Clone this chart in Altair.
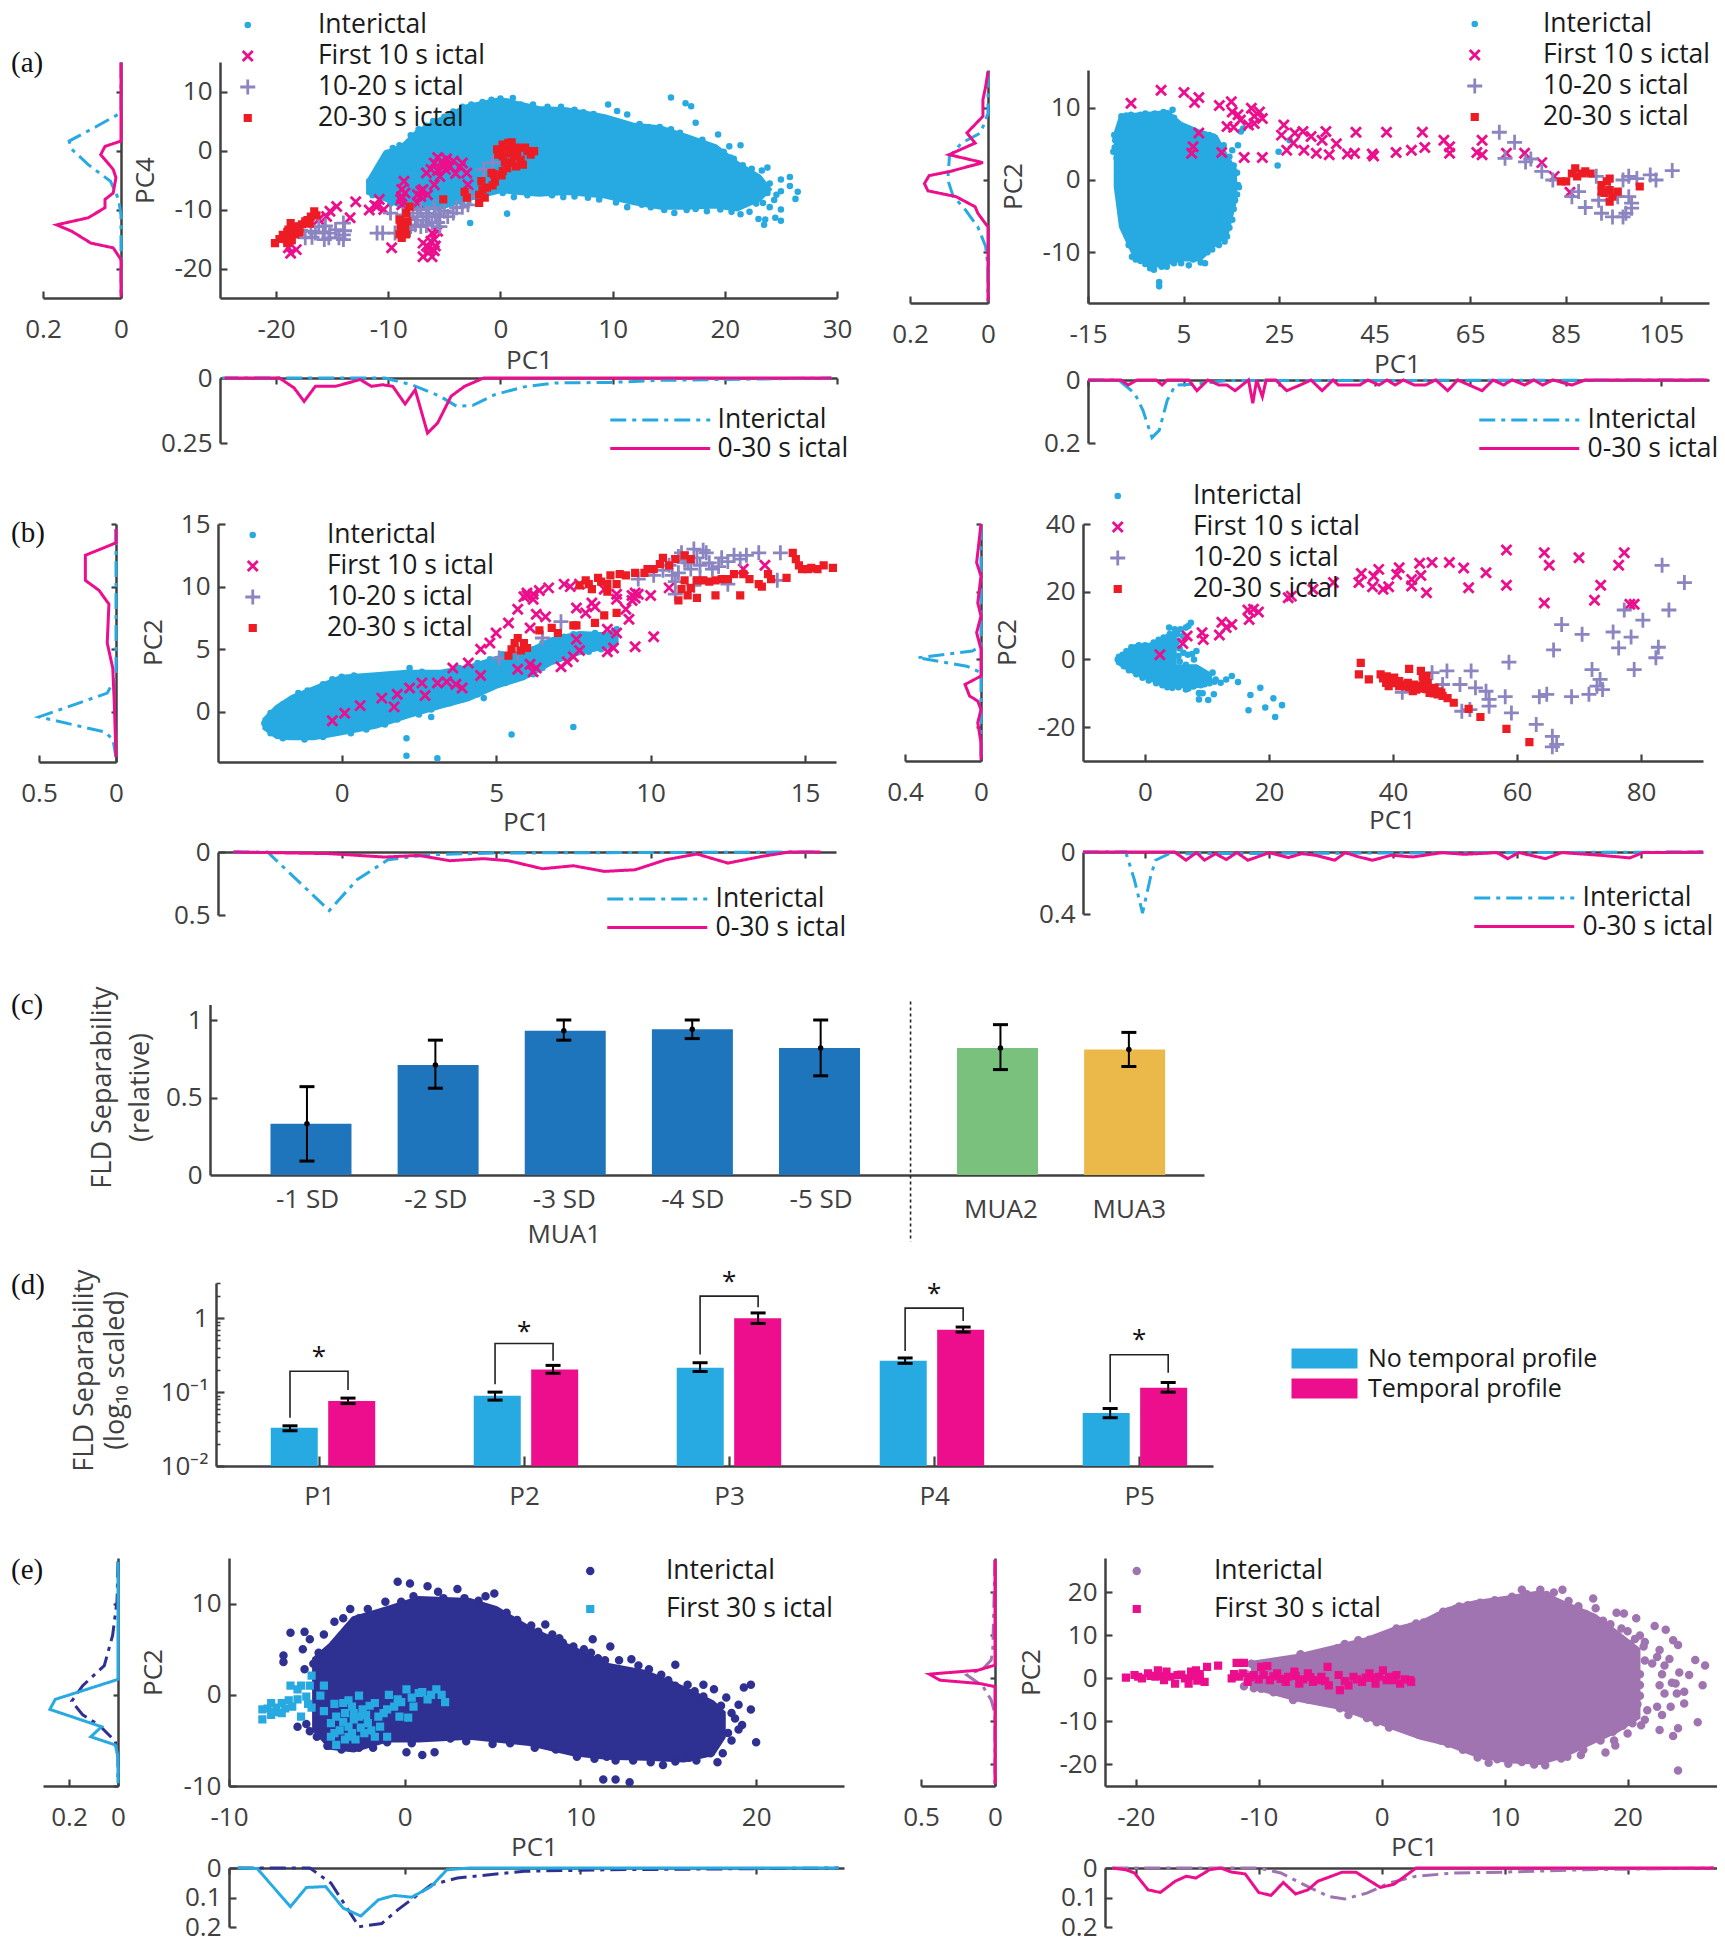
import altair as alt
import pandas as pd

F = "Open Sans"
SERIF = "Liberation Serif"
DARK = "#404040"
INK = "#1a1a1a"
BLUE = "#27AAE1"
PINK = "#EC0E8C"
LILAC = "#8B85C1"
RED = "#ED1C24"
NAVY = "#2E3192"
MAUVE = "#A074B0"
FS = 26
LFS = 26.5

LABELS4 = ["Interictal", "First 10 s ictal", "10-20 s ictal", "20-30 s ictal"]
LABELS2 = ["Interictal", "First 30 s ictal"]
LINE_LABELS = ["Interictal", "0-30 s ictal"]

# ---------- panel (a) left ----------
A1_BLOB_X = [-11.8,-10.3,-8.8,-7.4,-5.4,-3,0,3.4,5.9,9.3,11.8,14.3,16.7,19.2,21.1,23.1,24]
A1_BLOB_HI = [-5.2,-0.4,0.7,3.3,5.3,7.5,8.7,7.2,7,5.8,4.4,3.9,2.4,0.7,-2.1,-4.4,-6.6]
A1_BLOB_LO = [-7.2,-8.3,-9.5,-9.8,-9.8,-8.3,-6.9,-7.5,-7.2,-7.8,-8.9,-9.7,-9.7,-9.5,-10,-8.3,-6.6]
A1_INTER = [(15.2,9),(16.5,8),(17,7.5),(9.6,7.8),(10.4,6.7),(11.3,6.1),(17.4,4.7),(19.4,2.7),(20.4,.7),(21.4,.9),(20.5,-1.2),(21.6,-2.5),(23.8,-2.9),(25.8,-4.5),(25,-4.9),(26.5,-7),(26.3,-8.2),(25.8,-6),(25,-6.9),(25,-10),(25,-11.9),(24.5,-11.4),(23.6,-11.7),(23.5,-12.6),(23,-11.6),(21.4,-10.8),(18.4,-10.3),(15.5,-10.6),(14.6,-10.1),(11.3,-9.6),(6.6,-7.8),(3.7,-7.2),(1.2,-7.9),(.6,-10.7),(-2.7,-12.3),(-11.7,-5.2),(-10.1,-.4),(1.1,8.9),(0,8.8),(2.9,7.8),(5.4,7.4),
 (-10.2,-2),(-9.6,.4),(-9,.9),(-8.4,1),(-8,2.6),(-7.3,3.6),(-6.6,4.2),(-6,5),(-5,5.7),(-4.2,6.6),(-3.4,7.4),(-2.6,7.8),(-1.6,8.2),(-.8,8.6),(.6,8.3),(1.8,7.8),(4.2,7.4),(6.6,6.9),(7.4,6.5),(8.3,6.2),(12.4,4.5),(13.2,4),(14.2,4),(15.2,3.6),(16,3),(18,1.8),(19.9,-.2),(20.8,-1.4),(22.4,-3.1),(23.3,-3.4),
 (-11.4,-7.6),(-9.8,-9),(-3.4,-9),(-2,-8),(.2,-7.2),(2.4,-7.6),(4.6,-7.6),(5.6,-7.9),(7.8,-8),(8.8,-8.3),(10.3,-8.8),(12.6,-9.2),(13.4,-9.6),(16.6,-10.1),(17.4,-9.9),(19.6,-10),(20.6,-10.4),(22.2,-10.4),(22.8,-9),(23.4,-8.9),(24,-9.6),(24.4,-8.4),(24.6,-7.5),(24,-5.6),(23.2,-6.4),(23.8,-7.2)]
A1_X10 = [(-18.7,-17.4),(-18.2,-16.8),(-18.9,-16.5),(-16.2,-11.7),(-15.5,-11.2),(-15.2,-10.3),(-14.6,-9.5),(-13.4,-11.4),(-12.9,-8.7),(-11.7,-10.1),(-11,-9.5),(-10.8,-8.3),(-9.7,-16.5),(-8.8,-7.8),(-8.8,-6.6),(-8.6,-5.2),(-8.8,-9.2),(-7.4,-8.9),(-7.1,-7.8),(-6.9,-6.6),(-6.6,-3.8),(-5.9,-2.1),(-5.6,-1.2),(-5.4,-4.4),(-5.9,-5.8),(-4.9,-3.2),(-4.2,-1.8),(-3.4,-2.1),(-2.9,-5.8),(-6.9,-18),(-6.1,-18),(-6.4,-16.5),(-5.9,-15.1),(-6.9,-15.7),(-6.1,-14),(-5.6,-13.7),
 (-6.4,-17.3),(-6.6,-16.2),(-6.2,-15.4),(-5.9,-17),(-5.8,-16.2),(-5,-2.6),(-5.2,-1.8),(-4.5,-2.7),(-5.6,-3.4),(-6.2,-3.2),(-4.8,-1.4),(-7.1,-6.9),(-7.4,-7.5),(-6.5,-7.5),(-8.5,-7.2),(-8.9,-8.3),(-11.2,-9.3),(-10.4,-10),(-3.6,-2.8),(-3,-3.8),(-4,-3.9)]
A1_X20 = [(-18.2,-13.4),(-17.4,-14.8),(-16.5,-14),(-15.7,-15.1),(-14.7,-13.4),(-14,-15.1),(-14,-12.3),(-15.2,-14),(-16.2,-12.9),(-14,-14.3),(-11,-14),(-9.8,-10.6),(-8.1,-11.7),(-7.4,-11.2),(-6.6,-10.6),(-6.1,-12.3),(-5.4,-11.2),(-4.7,-11.2),(-3.9,-9.7),(-2.9,-9.2),(-8.1,-13.4),(-5.4,-12.9),(-1.5,-3.2),(-.7,-2.1),(-2.7,-7.8),(-7.1,-10),(-5.9,-9.7),(-7.1,-12.9),
 (-17.8,-13.5),(-16.9,-13.7),(-15.8,-13.8),(-15.3,-14.8),(-14.4,-14.8),(-13.9,-13.6),(-16.8,-14.7),(-15.6,-12.8),(-8.7,-10.9),(-8,-12.9),(-7.6,-12.6),(-6.9,-11.8),(-6.4,-11.2),(-5.8,-10.8),(-5,-10.3),(-4.2,-10.6),(-3.4,-9.6),(-7.8,-10.6),(-6.6,-12.7),(-5.6,-12.2),(-10.5,-14),(-9.4,-14)]
A1_X30 = [(-20.1,-15.7),(-19.4,-14.3),(-18.9,-13.4),(-18.7,-12.3),(-18.2,-12.9),(-17.4,-12),(-16.9,-11.2),(-16.6,-10.3),(-19,-15.7),(-9,-11.7),(-8.5,-12.9),(-8.8,-14.8),(-8.4,-10.6),(-8.1,-9.5),(-5.1,-8.3),(-3.2,-7),(-1.9,-8.9),(-1.9,-7.5),(-1.2,-6.3),(-1.7,-5.2),(-.5,-5.3),(-.8,-3.8),(.2,-3.5),(-.2,-.7),(.7,1.3),(1.5,.5),(1.2,-1),(2,-2.4),(2.2,.5),(3,-.1),(.2,-1),(.2,.7),(1,-2.1),(2.7,-.7),
 (-19.7,-15),(-19.2,-14.8),(-18.7,-14.5),(-19,-13.8),(-18.4,-13.6),(-18,-13.2),(-17.7,-12.5),(-17.2,-11.8),(-17,-12.4),(-16.4,-11),(-18.6,-15.2),(-18.3,-14.2),(-17.9,-13.9),(-8.9,-12.4),(-8.6,-13.5),(-8.9,-13.6),(-8.4,-14.2),(-8.3,-12),(-9,-14.2),(0,0),(.5,.5),(1,.5),(.8,-.5),(1.5,-.3),(.4,-2),(.6,-3),(1.4,-2.7),(1.8,-1.6),(2.4,-.1),(-.3,.2),(1,1.4),(.2,1),(-.6,-4),(.1,-4.2),(-1.4,-8),(-1.6,-6.6),(-3,-8),(-.7,-5.9)]
A1_L_I = [(14.9,0),(6.4,0),(4.1,.062),(1.6,.133),(.2,.126),(-2.4,.084),(-5.2,.027),(-8.3,.006),(-11,0),(-24.8,0)]
A1_L_P = [(14.9,0),(1.6,0),(.7,.041),(-.7,.052),(-3.2,.02),(-4.6,.013),(-7.2,.02),(-8.3,.041),(-9.7,.041),(-11.4,.084),(-12.6,.165),(-13.7,.126),(-15.7,.077),(-16.5,.02),(-18.5,0),(-24.8,0)]
A1_B_I = [(-24.8,0),(-10.3,0),(-7.9,.026),(-5.4,.07),(-3.9,.109),(-2.5,.106),(-.5,.064),(2,.035),(4.9,.019),(9.8,.017),(14.3,.009),(29.5,0)]
A1_B_P = [(-24.6,0),(-19.7,0),(-18.4,.038),(-17.5,.09),(-16.5,.032),(-14.7,.032),(-12.5,.006),(-11.5,.032),(-10.5,.026),(-9.6,.032),(-8.5,.1),(-7.6,.045),(-6.5,.212),(-5.6,.173),(-4.4,.07),(-3.2,.032),(-1.5,0),(29.5,0)]

# ---------- panel (a) right ----------
A2_BLOB_X = [-9.2,-8.1,-5.2,-1.8,1.6,4.4,8.4,11.8,14.1,15.8]
A2_BLOB_HI = [6.5,8.8,9,9.2,9.4,7.8,6.7,6,3.2,1.4]
A2_BLOB_LO = [-.9,-6.5,-10.6,-12,-11.5,-11,-11,-8.8,-7.4,-2.8]
A2_INTER = [(-9.5,6.2),(-9.7,3.9),(-.1,-14.7),(-.1,-14.1),(-1.2,-12.4),(2.7,9.7),(16.4,-.7),(15.8,-2.8),(14.1,-7.8),(9.5,-11.5),(6.1,-11.8),(-5.8,-10.6),(16.4,4.8),(17,6.7),(17.5,7.1),(24.7,2),(24.9,3.9),(27.2,5.5),(15.2,4.1),(11.2,6),(-8.6,3.2),
 (-9.3,5.5),(-9.4,4.5),(-9,3),(-8.9,1.5),(-8.7,0),(-8.6,-2),(-8,-4),(-7.6,-6),(-7,-7.5),(-6.5,-9),(-5,-11),(-4,-11.2),(-3,-11.6),(-2,-12.2),(.4,-12),(1.5,-12),(3,-11.5),(4.5,-11.5),(7,-11),(8.6,-11.4),(10,-10),(11,-9.6),(12.4,-9),(13.6,-8.5),(14.6,-6.6),(15.2,-5.5),(15.5,-4),(16.2,-2),(16.6,-1),(16.2,1),(15.5,2),(14.6,3.2),(13.4,4.8),(12.8,3.2),(-8,8.8),(-7,8.9),(-6,9),(-4,9),(-3,9.2),(-1,9.2),(.8,9.4),(2,9.2),(3,8.6),(3.8,7.8),(5,7),(7,6.8),(9.6,6.2),(10.4,6.2)]
A2_X10 = [(-6,10.6),(.3,12.4),(5.1,12.1),(7.3,10.7),(8.2,11.4),(12.5,10.3),(15,10.8),(15.2,9.4),(16.4,9),(14.1,7.4),(15.5,7.3),(16.9,8.3),(19.8,8.8),(19.2,9.9),(20.9,9.4),(19.8,7.8),(21.5,8.5),(18.6,7.6),(8.2,6.5),(7,4.6),(6.7,3.7),(13,3.8),(17.7,3.1),(21.5,3.1),(26,7.6),(25.5,6.2),(26.6,4.1),(28,5.1),(28.3,6.5),(30,6.7),(30.2,4.1),(31.7,6),(32.8,3.7),(34,5.5),(34.8,6.7),(35.5,3.5),(37,5),(39.3,3.6),(40.8,3.7),(41.1,6.6),(44.5,3.6),(44.8,3.3),(47.5,6.6),(49.5,3.8),(52.7,4.1),(55,6.6),(55.5,4.5),(59.5,5.5),(60.7,4.6),(60.7,3.7),(66.4,3.8),(67.5,3.5),(67.5,5.5),(72.6,3.7),(76.4,3.7),(80,2.4),(82.6,.5),(85.9,-1.7)]
A2_X20 = [(71.1,6.6),(74.3,5.2),(72.3,3),(76.6,2.5),(77.7,2.9),(80,1.2),(82.3,0),(86.3,-2.3),(87.7,-1.6),(89.1,-3.8),(91.9,-2.8),(92.5,-4.6),(94.8,-5.1),(97.6,-4.6),(98.8,-3.9),(98.8,-3.2),(98.2,.5),(97,0),(99.9,.2),(102.7,.7),(103.9,0),(107.3,1.3),(97,-5.1),(91.4,.5),(94.2,-1.4),(98.2,-2.3),(95.9,-2.3)]
A2_X30 = [(84,-.2),(85.1,-.2),(86.3,.9),(87,1.6),(88.5,.9),(90.2,.9),(87.4,.5),(89.1,1.2),(92.5,-.7),(93.6,-.2),(94.2,-1.4),(93.1,-1.8),(94.8,-2.3),(94.2,-3),(95.9,-1.6),(100.5,-.9),(92.5,-1.6),(94.2,.2)]
A2_L_I = [(15,0),(9.2,0),(6.5,.019),(5.1,.068),(3.2,.099),(0,.103),(-2.3,.089),(-3.9,.061),(-6.5,.026),(-9.2,.006),(-12,0),(-16.8,0)]
A2_L_P = [(15,0),(12.9,.006),(11.1,.013),(8.8,.013),(6.5,.054),(5.1,.033),(3.5,.1),(2.4,.013),(1.2,.096),(.6,.151),(-.5,.163),(-1.5,.154),(-2.3,.082),(-3.7,.033),(-4.6,.026),(-6.5,0),(-16.8,0)]
A2_B_I = [(-15,0),(-8.6,0),(-5.2,.043),(-3.5,.096),(-1.6,.183),(-.1,.16),(1.6,.064),(3.3,.016),(7.3,.013),(14.1,.002),(114,0)]
A2_B_P = [(-15,0),(-8.1,0),(-6.6,.016),(-4.7,0),(-.7,0),(.5,.016),(1.6,0),(6.1,0),(7.8,.034),(10.1,0),(12.4,.016),(14.1,.016),(15.8,.034),(18.6,0),(19.5,.074),(20.3,0),(21.5,.053),(22.3,0),(24.3,0),(26.6,.034),(29.4,.016),(31.7,0),(34,.034),(36.3,0),(37.4,.016),(39.1,.016),(41.9,.016),(43.6,0),(45.9,.016),(47.6,0),(49.3,.016),(51,0),(53.3,.016),(55.6,.016),(57.8,0),(60.3,.034),(62.4,0),(67.5,.034),(69.8,0),(72,.016),(73.8,0),(76.4,.016),(78.3,0),(80.2,.016),(82.3,0),(86.3,.016),(89.1,0),(114.7,0)]

# ---------- panel (b) left ----------
B1_BLOB_X = [-2.5,-2.1,-1.6,-.9,0,1.1,2.1,3.2,4.1,5,5.9,6.8,7.7,8.6,8.9]
B1_BLOB_HI = [-.6,.4,1.2,1.9,2.8,3,3.2,3.2,3.6,4.3,4.7,5.8,6.3,6.2,6.6]
B1_BLOB_LO = [-1.3,-2,-2.1,-2.1,-1.7,-1.2,-.4,.4,1,2,2.7,3.9,4.7,5.2,5.5]
B1_INTER = [(2.1,-2.1),(2.1,-3.5),(3.1,-3.7),(5.5,-1.8),(7.5,-1.2),(2.2,3.5),(4.6,1.1),(2.9,-.4),(7.1,4.6),(7.8,4.8),(-2.5,-.9),(-1.7,-2),(0,2.8),(8.9,6.6),
 (-2.3,-.1),(-1.9,.6),(-1.4,1.5),(-1.1,1.7),(-.6,2.2),(-.3,2.6),(.4,2.9),(.8,2.7),(1.5,2.9),(1.9,3),(2.6,3.2),(3.5,3.1),(3.8,3.5),(4.4,3.9),(4.8,4.2),(5.2,4.6),(5.6,4.6),(6.2,5),(6.5,5.5),(7.2,6),(7.5,6.2),(8.2,6.3),(8.5,6.1),
 (-2.3,-1.7),(-1.9,-2.1),(-1.2,-2.2),(-.6,-2),(.3,-1.7),(.8,-1.4),(1.4,-1),(1.8,-.6),(2.5,-.2),(2.9,.2),(3.5,.7),(3.9,1),(4.4,1.4),(4.8,1.9),(5.3,2.3),(5.6,2.6),(6.2,3),(6.5,3.5),(7,4.2),(7.4,4.5),(8,4.8),(8.4,5),(8.8,5.4)]
B1_X10 = [(-.3,-.7),(.1,-.1),(.6,.5),(1.3,1.1),(1.7,.4),(1.8,1.4),(2.2,1.9),(2.6,2.3),(2.7,1.3),(3.1,2.3),(3.4,2.4),(3.6,3.5),(3.7,2.2),(3.9,1.9),(4.1,3.9),(4.5,2.9),(4.5,5),(4.8,5.5),(5,6.3),(5.4,7.1),(5.7,8.2),(6,9.3),(6.2,9.4),(6.4,9.7),(6.7,9.9),(7.2,10.2),(6.3,7.8),(6.1,6.7),(5.7,3.4),(6.1,3.8),(6.3,3.5),(7.1,3.6),(7.5,4.4),(7.6,5.8),(7.6,8.3),(8.1,8.7),(7.9,7.9),(8.6,4.8),(8.8,5.1),(8.9,9.4),(8.9,6.3),(8.6,6.6),(9.3,7.4),(9.2,8.2),(9.5,9.1),(9.5,9.5),(10,9.3),(9.5,5.2),(10.1,6),(10.6,9.9),(13.7,11.7),(13,11.4),(7.4,10),(7.7,10.2),
 (5.9,9.2),(6,9.5),(6.2,9),(9.4,9.3),(9.6,9.4),(9.4,8.9),(8.2,8.4),(8.5,9.8),(6.6,7.6),(8.9,9),(7.7,4.9),(7.3,4),(6.2,3.2)]
B1_X20 = [(5.1,4.3),(5.7,4.7),(6.5,5.9),(7.1,7.2),(9.6,10.6),(10.1,10.9),(10.6,11.7),(11,12.7),(11.4,13),(11.8,12.7),(10.9,11.1),(11.3,11.4),(11.6,11.7),(12,11.4),(12.3,12.3),(12.7,12.5),(13.5,12.7),(14.2,12.7),(11.4,10.1),(10.8,9.4),(12.5,10.2),(14.1,10.5),(11.1,12.1),
 (10.4,11.3),(10.7,10.9),(11.2,11.9),(11.5,12.3),(11.6,10.7),(10.9,12.4),(11.9,11.9),(12.2,11.6),(12.5,12),(12.9,12.2),(13.1,12.5),(11.7,12.9),(10.8,10.4)]
B1_X30 = [(5.4,4.5),(5.6,5.5),(5.9,5.5),(6,5.1),(6.4,6.5),(6.8,6.7),(7,6.3),(7.6,6.9),(8.2,7.1),(8.5,7.7),(8.9,7.9),(7.7,10.1),(8,10.2),(8.3,10.7),(8.7,10.9),(9,11),(9.5,11.1),(9.9,11.4),(10.3,11.8),(10.4,12.3),(11.1,12.5),(8.6,10.2),(10.9,8.9),(11,9.8),(11.1,10.5),(11.5,9.1),(11.5,10.5),(12.1,10.5),(12.1,9.3),(12.5,10.6),(12.9,9.3),(13,11),(13.5,10.2),(13.8,11),(14.4,10.7),(14.6,12.7),(14.8,11.7),(15.2,11.5),(15.6,11.7),(15.9,11.5),
 (7.9,10.5),(8.1,9.8),(8.4,10.4),(8.6,9.6),(8.9,10.2),(9.2,10.9),(9.8,11.1),(10.1,11.4),(10.6,11.7),(10.8,12.2),(11.3,12.2),(11.2,9.3),(11.3,9.9),(11.7,10.5),(11.9,10.4),(12.3,10.6),(12.7,11),(13.2,10.6),(13.6,10),(13.9,10.6),(14.7,12.2),(14.9,11.4),(15.4,11.4),(15.1,11.4),(5.5,5),(5.8,4.9),(5.7,5.9),(7.5,6.9)]
B1_L_I = [(14.6,0),(2.8,0),(1.5,.057),(-.4,.5),(-1.6,.074),(-2.2,.02),(-3.6,0)]
B1_L_P = [(14.6,0),(13.5,0),(12.5,.199),(10.5,.199),(9.7,.11),(8.6,.046),(5.5,.057),(3.5,.021),(.7,.011),(-3.6,0)]
B1_B_I = [(-3.5,0),(-2.4,0),(-.4,.465),(.5,.22),(1.5,.061),(2.9,.021),(5,.008),(15.4,0)]
B1_B_P = [(-3.5,0),(-.4,.013),(1.4,.04),(2.5,.027),(3.5,.069),(4.6,.053),(5.4,.069),(6.5,.133),(7.5,.109),(8.5,.154),(9.5,.141),(10.5,.061),(11.5,.016),(12.5,.088),(13.6,.035),(14.5,0),(15.5,0)]

# ---------- panel (b) right ----------
B2_BLOB_X = [-3.9,-1.7,.9,3.5,4.8]
B2_BLOB_HI = [1,3.9,4.4,6.9,7.9]
B2_BLOB_LO = [-1.5,-3.9,-5.9,-7.9,-7.9]
B2_ARM_X = [4.8,8.3,10.5]
B2_ARM_HI = [-2,-2,-4.4]
B2_ARM_LO = [-7.9,-7.9,-6.9]
B2_INTER = [(5.7,8.9),(6.6,9.4),(7.4,10.8),(7,9.9),(5.2,7.4),(6.1,6.9),(8.3,2.5),(7.9,0),(4.8,8.9),(3.9,9.4),(10.9,-3.9),(11.4,-5.9),(13.1,-5.9),(14,-4.9),(15,-6.7),(12.2,-6.9),(4.4,-8.4),(6.6,-8.9),(8.7,-9.9),(9.3,-10),(8.7,-11.8),(10.2,-12),(11.1,-10.3),(18.6,-8.4),(17,-10.5),(20.7,-11.5),(19.4,-14.2),(16.7,-15),(22.1,-13.5),(21,-17),
 (-4.4,0),(-4.2,.8),(-3.6,1.4),(-3,2.4),(-2.2,3.6),(-1,4.2),(0,4.2),(1.4,5),(2.2,5.8),(3,6.5),(4,7.5),(-4.2,-.8),(-3.4,-2),(-2.6,-3.2),(-1.4,-4.4),(-.4,-5.4),(.6,-6.2),(1.8,-7),(2.8,-7.6),(3.6,-8.2),(5.4,-8.2),(7,-8.6),(7.8,-8),(9,-7.6),(9.6,-7.3),(10.4,-7),(11.2,-6.6),(7.4,-2.6),(6.6,-1.6),(5.6,-.6),(5.4,1),(6.2,2),(5.6,3.2),(5,4),(5.3,5.4),(6.9,1.4),(7.6,1.6)]
B2_X10 = [(2.4,1.4),(6.1,4.7),(6.8,6.9),(9.2,7.9),(9.4,5.9),(12,7.2),(12.4,11),(14,10.3),(13.1,9.4),(16.6,14.6),(16.8,11.8),(18.3,14),(17.5,14.8),(23.1,18.2),(23.6,18.7),(27.1,20.7),(30.4,22.7),(34.9,25.4),(34.5,22.7),(36.9,24.6),(37.7,26.6),(36.7,21.5),(38.4,20.7),(39.3,21.5),(40.6,25.1),(41,27.1),(43,23.6),(43,21.7),(44.5,24.8),(44.3,28.4),(46.3,28.6),(45.4,19.7),(49.1,28.6),(51.4,27),(52.2,21.2),(55,25.6),(58.3,32.3),(58.3,21.9),(64.4,31.5),(65.2,27.8),(64.4,16.7),(70,30),(72.5,17.5),(73.5,21.9),(77.3,31.5),(76.4,27.8),(78.2,16.3),(78.9,16.3)]
B2_X20 = [(83.4,27.8),(87,22.7),(84.5,14.6),(77.3,14.6),(80.3,11.6),(67.2,10.3),(70.5,7.4),(75.5,8.1),(78.4,6.6),(76.4,3.4),(82.8,3.6),(65.9,2.8),(82.4,.5),(58.7,-.8),(78.9,-3),(72.1,-3),(73.4,-5.9),(72.9,-7.9),(73.8,-8.9),(71.6,-10.3),(68.8,-11),(64.8,-10.3),(63.6,-11),(58.1,-11),(55.5,-11.8),(53.3,-8.4),(55,-9.4),(55.5,-13.8),(59.1,-15.8),(51.1,-15.3),(63.1,-19.2),(65.7,-22.7),(66.4,-25.1),(65.7,-25.8),(52.6,-3.4),(48.7,-3.4),(46.3,-3.9),(48,-7.4),(50.8,-7.4),(52.4,-14.8),(41.5,-9.7)]
B2_X30 = [(34.8,-1),(34.5,-4.4),(36.1,-5.9),(38,-4.4),(38.9,-6.9),(40.2,-5.4),(39.3,-7.9),(41,-7.9),(42.4,-6.9),(42.6,-2.8),(43.7,-8.9),(44.5,-3.4),(44.9,-6.9),(45.9,-9.9),(46.7,-8.4),(48,-10.8),(49.8,-12.8),(52.2,-14.6),(54.1,-17),(58.3,-20.5),(62,-24.4),(43.2,-9.4),(45.4,-4.9),(47.2,-10.3),(41,-6.4),
 (39.6,-6.2),(40,-7),(40.6,-6.6),(41.4,-7.4),(42,-8),(42.6,-8.2),(43.4,-7.4),(44,-7.8),(44.4,-8.6),(45,-7.8),(45.4,-8.8),(45.6,-7),(46.2,-9),(46.6,-10),(47.4,-9.4),(47.8,-9.8),(48.8,-11.4),(38.4,-5.6),(39,-5),(45.2,-5.8),(44.8,-5)]
B2_L_I = [(39.9,0),(3.9,0),(2.5,.046),(.5,.334),(-2,.075),(-3.9,0),(-29.6,0)]
B2_L_P = [(40,0),(28.6,.023),(24.6,0),(16.7,.017),(12.8,0),(7.9,.023),(3,0),(-4.9,0),(-7.4,.084),(-10.8,.06),(-12.3,.017),(-14.8,0),(-18.7,.017),(-24.6,0),(-29.6,0)]
B2_B_I = [(-10,0),(-3.1,0),(-1.7,.181),(-.4,.394),(.9,.16),(1.7,.053),(3.9,.011),(90,0)]
B2_B_P = [(-10,0),(4.8,0),(6.6,.053),(8.3,.004),(9.6,.053),(11.4,.011),(13.1,.049),(14.8,.004),(16.6,.053),(20.1,.004),(23.1,.036),(25.3,.011),(27.5,.021),(30.6,.053),(32.3,.004),(34.5,.032),(36.7,.053),(39.7,.021),(43.2,.032),(48,.004),(51.5,.015),(56.8,.004),(58.5,.043),(60.3,.004),(64.6,.043),(67.2,.004),(73.4,.021),(78.2,.038),(80.3,.004),(90,0)]

# ---------- panel (c) ----------
C_X = [1,2,3,4,5,6.4,7.4]
C_VAL = [.33,.71,.93,.94,.82,.82,.81]
C_LO = [.09,.56,.87,.88,.64,.68,.70]
C_HI = [.57,.87,1.0,1.0,1.0,.97,.92]
C_GROUP = ["MUA1","MUA1","MUA1","MUA1","MUA1","MUA2","MUA3"]
C_TICKS = {1:"-1 SD",2:"-2 SD",3:"-3 SD",4:"-4 SD",5:"-5 SD"}

# ---------- panel (d) ----------
D_SERIES = ["No temporal profile","Temporal profile"]
D_X_BLUE = [.8585,1.8585,2.8585,3.8585,4.8585]
D_X_PINK = [1.1415,2.1415,3.1415,4.1415,5.1415]
D_BLUE = [.033,.089,.214,.266,.052]
D_PINK = [.076,.203,1.0,.70,.115]
D_BLUE_LO = [.030,.078,.19,.245,.045]
D_BLUE_HI = [.035,.10,.25,.29,.06]
D_PINK_LO = [.070,.18,.85,.65,.10]
D_PINK_HI = [.083,.23,1.18,.76,.135]
D_BR_L = [.045,.128,.323,.36,.073]
D_BR_TOP = [.192,.456,1.99,1.37,.32]
D_BR_R = [.107,.266,1.41,.917,.183]
D_STAR = [.296,.66,3.06,2.1,.50]
D_MINOR = [.02,.03,.04,.05,.06,.07,.08,.09,.2,.3,.4,.5,.6,.7,.8,.9,2,3]

# ---------- panel (e) left ----------
E1_BLOB_X = [-5.1,-4.2,-2.9,-1,.8,3.7,5.2,7.1,9.6,11.5,13.7,15.9,17.5,18.1]
E1_BLOB_HI = [3.9,5.4,8.3,9.4,10.5,10.3,9.4,7.2,5,3.2,2.4,.6,-.9,-2]
E1_BLOB_LO = [-3.8,-5.7,-6,-4.9,-4.9,-4.6,-4.9,-5.3,-6.4,-6.8,-6.9,-7.1,-6.4,-4.6]
E1_INTER = [(-.4,12.4),(.3,12.2),(1.3,11.9),(1.9,11.3),(3,11.6),(4.6,10.8),(5.1,11.1),(-1.1,10.2),(-2.1,9.4),(-3.1,9.4),(-4,8),(-6.5,6.8),(-5.7,6.9),(-5.4,6.1),(-5.8,5),(-6.9,4.3),(-6.9,3.6),(-5.7,2.8),(8,7.7),(9,5.7),(10.7,6.1),(11.7,5.3),(12.9,3.9),(15.4,3.3),(16.1,1.1),(17,1.1),(17.6,.6),(18.3,-.3),(19,-1.1),(19.3,.8),(19.7,1.1),(19.7,-1.6),(19.2,-3.3),(20,-5.2),(18.4,-4.2),(18.1,-6.4),(17.8,-7.4),(14.7,-7.7),(11.3,-9.3),(12,-9.3),(12.8,-9.6),(.1,-6.3),(1,-6.6),(1.7,-6.3),(3.5,-5.1),(-6.1,-3.5),(-2.6,-5.8),(16.2,-6.9),(11.5,-6.8),
 (-4.6,6.6),(-3.5,8.4),(-2.6,8.4),(-1.9,8.2),(-.8,8.8),(-.2,10.2),(.5,10.8),(2.2,10.6),(3.4,10.6),(4.2,10.3),(5.8,9),(6.4,8.2),(7.2,7.6),(7.6,6.9),(8.4,6.6),(8.8,6.2),(9.6,5.3),(10.2,5),(10.6,4.6),(11,4),(11.4,3.8),(12.2,3.8),(13.3,3.2),(13.9,2.8),(14.6,2.2),(15,1.6),(15.4,1),(16.5,.4),(17,-.2),(18,-1.2),(18.6,-2),(18.8,-2.6),(19,-3.8),(18.6,-5),(17.4,-6.4),(16.6,-7.2),(15.4,-7.3),(14,-7.4),(13,-7.2),(12,-7.2),(10.8,-7),(9.8,-6.8),(8.6,-6),(7.4,-5.8),(6,-5.3),(5,-5.4),(2.6,-4.8),(.4,-5.3),(-1,-5.2),(-1.8,-5.8),(-3.6,-6),(-4.4,-5.6),(-5,-4.6),(-5.6,-3.2),(-5.4,-4),(-5.2,1),(-4.9,4.6),(-5.2,3.4)]
E1_ICTAL = [(-8.1,-2.7),(-8.1,-1.6),(-7.6,-.9),(-7.6,-2.2),(-7,-.9),(-7,-2),(-6.5,1),(-6.4,-1.3),(-6.1,.6),(-6.1,-.5),(-5.9,-2.4),(-5.4,1),(-5.3,2.1),(-5.3,-1.4),(-4.6,1),(-4.8,-.1),(-4.6,-1.8),(-4.2,-3.1),(-4,-4.2),(-3.9,-5.5),(-3.5,-.9),(-3.4,-2),(-3.2,-3.5),(-2.8,-4.9),(-2.6,-.1),(-2.4,-1.6),(-2.1,-3.1),(-1.7,-4.6),(-1.7,-.9),(-1.2,-2),(-1,-4.6),(-.9,0),(-.6,-1.3),(-.3,-2.4),(.2,-2.5),(.1,.6),(.5,-1.3),(.8,.2),(1.3,-.5),(1.8,.6),(2.1,0),(2.3,-.8),(-3.9,-2.4),(-2.9,-2.7),(-2.3,-4.2),(-1.4,-3.5),(-.4,-.5),(-4.2,-4.6),(-3.2,-4.6),(-2.6,-2.4),
 (-7.8,-1.5),(-7.3,-1.4),(-6.8,-1.5),(-6.6,-.6),(-7.4,-1.9),(-5.9,1),(-5.6,-.2),(-5.5,-1),(-4,-1),(-3,-1.3),(-3.2,-.6),(-2.9,-2),(-2.2,-2.2),(-3.5,-3),(-3.7,-3.9),(-3,-4.2),(-2.5,-3.6),(-1.9,-3.9),(-1.5,-2.4),(-1,-1.6),(-.2,-.8),(.4,-.3),(1,.3),(1.5,0),(-3.4,-4.9),(-2,-1.2)]
E1_L_I = [(14.6,0),(10.3,.004),(6.5,.022),(3.2,.056),(1,.144),(-.7,.189),(-2.2,.144),(-3.3,.078),(-5.1,.011),(-6.8,0),(-9.7,0)]
E1_L_P = [(14.6,0),(1.7,0),(1.5,.022),(-.5,.256),(-1.6,.278),(-2.4,.189),(-3.5,.067),(-4.6,.111),(-5.5,.011),(-6.8,0),(-9.7,0)]
E1_B_I = [(-9.5,0),(-5.4,0),(-4.2,.051),(-2.6,.199),(-1.3,.188),(-.4,.142),(1.5,.057),(3,.034),(6.8,.011),(11.5,.006),(24.7,0)]
E1_B_P = [(-9.5,0),(-8.4,.002),(-6.5,.131),(-5.6,.066),(-4.5,.063),(-3.5,.136),(-2.5,.163),(-1.5,.108),(-.6,.093),(.4,.099),(1.5,.063),(2.4,.006),(3.7,0),(24.7,0)]

# ---------- panel (e) right ----------
E2_BLOB_X = [-10.4,-6.9,-3.4,-1.2,1,3.2,5.4,7.6,10.3,12.9,14.7,17.3,19.1,20.8]
E2_BLOB_HI = [3.5,5,7.4,8.9,11.3,12.8,15.9,17.5,18.6,19.8,17.5,14.4,10.5,6.6]
E2_BLOB_LO = [-1.9,-4.7,-6.6,-8.9,-11.3,-13.6,-15.1,-17.5,-19,-19.4,-17.9,-14.4,-12,-8.9]
E2_INTER = [(11.4,20.6),(12.9,20.6),(14.7,20.6),(14,20),(17.2,18.6),(17.4,16.3),(19.1,15.3),(19.7,15.1),(20.7,14),(22.2,12.2),(23.1,11.3),(23.7,8.9),(24.1,7.8),(25.5,4.3),(26.3,3),(25,.8),(26.1,-1.6),(24.6,-3.1),(24.6,-5.8),(25.7,-10.2),(24.1,-11.6),(23.7,-13.4),(22.6,-12),(21.1,-10.9),(18.9,-14.4),(18.2,-17.2),(15.1,-18.2),(13.3,-20.2),(24.1,-21.4),(8.7,-19.6),(7.8,-18.4),(10.3,-19.8),(3.9,-13.6),(1.7,-11.6),(-2.7,-8.5),(5,15.5),(6.3,16.7),(2.8,12.8),(.4,10.1),(-1.9,8.9),(-4.7,5.4),(-6.7,5),(-10.4,-2.3),(23.5,-6.6),(23.9,-1.2),(22.6,6.6),(21.3,7.4),
 (20,11),(21,10),(21.4,8.5),(20.6,9.2),(22.4,5),(22,3.5),(23,3),(23.4,4.5),(24.2,1.4),(22.8,1),(23.6,-1),(22.6,-1.6),(23,-3.5),(24,-3.5),(22.4,-6.6),(21.6,-7.4),(22.8,-8.5),(21.4,-9.6),(20.4,-10.4),(19.6,-11),(20,-12.8),(18.8,-12.4),(19,-15.6),(17.8,-14.4),(16.4,-16.6),(16.2,-17.8),(14.6,-18.6),(12.4,-20),(11.4,-19.4),(9.4,-18.8),(8.4,-18),(6.6,-16.6),(5.4,-15.2),(4.8,-14.4),(3,-13),(2.4,-12.4),(.6,-11.4),(-.4,-10.2),(-1.2,-9.2),(-3.4,-6.9),(-5,-5),(-6,-4.9),(-7.2,-5),(-8.8,-3.2),(-9.8,-2.4),(-11.2,-1.8),(-11,1),(-10.6,3.4),(-9,3.4),(-7.6,3.8),(-6.6,5.6),(-5.4,5.4),(-3.6,7),(-3,8),(-1,9),(.6,10.4),(1.2,11.6),(2.4,12),(3.4,13),(4.6,14.4),(6,16.2),(7,17),(8,17.6),(9.2,18.2),(10.6,19),(11.8,19.6),(13.4,19.4),(15.2,18),(16,16.8),(16.6,15),(18,13.4),(18.6,12.6),(19.5,11.6),(20.2,8),(20.6,5.4),(21.4,4.2),(20.6,3),(21,1),(21,-1.5),(21,-4),(20.8,-6)]
E2_ICTAL = [(-20.8,.2),(-20.1,.8),(-19.5,0),(-19,1.2),(-18.4,.4),(-18.2,1.9),(-17.7,-.4),(-17.5,1.6),(-16.8,-1.2),(-16.6,.8),(-16,0),(-15.5,1.6),(-15.7,-1.2),(-15.1,1.9),(-14.8,.4),(-14.4,-.8),(-14.2,2.7),(-13.3,3),(-12.2,0),(-11.8,3.6),(-11.2,3.6),(-11.3,1.2),(-10.9,-.8),(-10.4,.8),(-9.8,2.7),(-9.3,2.9),(-9.1,-.4),(-8.5,1.2),(-7.8,-.8),(-7.1,1.6),(-6.7,-1.2),(-6,1.2),(-5.6,-.8),(-4.9,.4),(-4.4,2.7),(-4.3,-1.6),(-3.5,.8),(-3.4,-2.7),(-2.7,-1.6),(-2.3,.4),(-1.6,-.8),(-1,1.2),(-.5,-1.2),(.1,1.9),(.4,-.4),(1.2,.8),(1.5,-1.2),(2.3,-.4),
 (-19.8,.4),(-18.8,.6),(-17.9,.6),(-17.2,.4),(-16.3,.9),(-15.4,.6),(-15,-.5),(-14.8,1),(-12,1),(-11.6,.4),(-10.7,.3),(-10,-.2),(-9.6,.8),(-8.8,.5),(-8.2,-.1),(-7.6,.4),(-7,.6),(-6.4,-.2),(-5.8,.3),(-5.2,-.4),(-4.6,-.6),(-3,-.6),(-2,-.2),(-1.3,.2),(-.8,.2),(-.2,.4),(.6,.4),(1,-.4),(1.9,-.2),(2.4,-.8)]
E2_L_I = [(27.6,0),(6.6,.015),(4.3,.026),(2.3,.08),(.8,.19),(-1.9,.08),(-5,.026),(-8.2,0),(-24.5,0)]
E2_L_P = [(27.6,0),(3.1,0),(1.9,.117),(1,.445),(-.4,.372),(-1.2,.1),(-1.9,0),(-24.5,0)]
E2_B_I = [(-21.9,0),(-10,0),(-8.2,.017),(-6,.063),(-4.3,.097),(-3,.105),(-1.2,.085),(.6,.051),(2.8,.028),(5.9,.017),(9.8,.014),(16.4,.006),(27,0)]
E2_B_P = [(-21.9,0),(-20.8,.006),(-20.1,.017),(-19,.074),(-18,.083),(-16.8,.045),(-15.9,.028),(-15.1,.034),(-14,.006),(-13.1,0),(-12.2,.014),(-11.1,.02),(-10,.083),(-9,.093),(-8,.049),(-7,.088),(-6,.074),(-5.2,.045),(-3.2,.014),(-2.1,.014),(-.1,.066),(1,.055),(2.8,0),(27,0)]

W, H = 1709, 1934
L = []
O = 8
MSW = 2.8

def dot(r):
    return f"M-{r},0A{r},{r} 0 1,1 {r},0A{r},{r} 0 1,1 -{r},0Z"
XM = "M-2,-2L2,2M-2,2L2,-2"
PLUS = "M-3,0L3,0M0,-3L0,3"
SQ = "M-1.08,-1.08L1.08,-1.08L1.08,1.08L-1.08,1.08Z"
LINE_SYM = "M-10,0L10,0"
BAR_SYM = "M-6.6,-2L6.6,-2L6.6,2L-6.6,2Z"

def S(dom, rng, **k):
    return alt.Scale(domain=dom, range=rng, nice=False, zero=False, **k)

BASE_AX = dict(grid=False, domainColor=DARK, domainWidth=2.5, tickColor=DARK, tickWidth=2.2,
               labelColor=DARK, labelFont=F, labelFontSize=FS, labelOverlap=False, labelBound=False,
               labelFlush=False, titleFont=F, titleFontSize=FS, titleColor=DARK, titleFontWeight="normal")

def axb(yabs, values, labels=True, pad=18, tick=0, domain=True, expr="''+datum.value", **k):
    d = dict(BASE_AX); d.update(dict(orient="bottom", offset=yabs-O-H, values=values, labels=labels,
        labelPadding=pad, tickSize=tick, ticks=tick > 0, domain=domain, title=None, labelExpr=expr))
    d.update(k); return alt.Axis(**d)

def axl(xabs, values, labels=True, pad=8, tick=0, domain=True, expr="''+datum.value", **k):
    d = dict(BASE_AX); d.update(dict(orient="left", offset=-(xabs-O), values=values, labels=labels,
        labelPadding=pad, tickSize=tick, ticks=tick > 0, domain=domain, title=None, labelExpr=expr))
    d.update(k); return alt.Axis(**d)

def axt(yabs, values, tick=7):
    d = dict(BASE_AX); d.update(dict(orient="top", offset=-(yabs-O), values=values, labels=False,
        tickSize=tick, domain=False, title=None))
    return alt.Axis(**d)

def axr(xabs, values, tick=7, **k):
    d = dict(BASE_AX); d.update(dict(orient="right", offset=xabs-O-W, values=values, labels=False,
        tickSize=tick, domain=False, title=None)); d.update(k)
    return alt.Axis(**d)

DOT = pd.DataFrame({"a": [1], "b": [1]})

def axes(xs, ys, xa, ya):
    L.append(alt.Chart(DOT).mark_point(opacity=0).encode(
        x=alt.X("a:Q", scale=xs, axis=xa), y=alt.Y("b:Q", scale=ys, axis=ya)))

def blob(xs, ys, bx, hi, lo, color, sw=4):
    df = pd.DataFrame({"x": bx, "hi": hi, "lo": lo})
    L.append(alt.Chart(df).mark_area(color=color, stroke=color, strokeWidth=sw, opacity=1).encode(
        x=alt.X("x:Q", scale=xs, axis=None),
        y=alt.Y("hi:Q", scale=ys, axis=None),
        y2="lo:Q"))

def scatter(xs, ys, names, data, shapes, strokes, fills, lx, ly, lab_x, rowpad):
    rows = [{"x": p[0], "y": p[1], "s": n} for n, d in zip(names, data) for p in d]
    df = pd.DataFrame(rows)
    leg = alt.Legend(orient="none", legendX=lx-2.5-O-10, legendY=ly+3-LFS/2-O, title=None, padding=0,
                     symbolSize=25, symbolStrokeWidth=MSW, labelFont=F, labelFontSize=LFS, labelColor=INK,
                     labelOffset=lab_x-lx-2.5-13.6, rowPadding=rowpad, labelLimit=400)
    L.append(alt.Chart(df).mark_point(size=25, strokeWidth=MSW, opacity=1).encode(
        x=alt.X("x:Q", scale=xs, axis=None),
        y=alt.Y("y:Q", scale=ys, axis=None),
        shape=alt.Shape("s:N", scale=alt.Scale(domain=names, range=shapes), legend=leg),
        stroke=alt.Stroke("s:N", scale=alt.Scale(domain=names, range=strokes), legend=leg),
        fill=alt.Fill("s:N", scale=alt.Scale(domain=names, range=fills), legend=leg)))

def lines(xs, ys, names, series, colors, swap=False, legend=None, dash=(16, 6, 4, 6), sw=3):
    rows = []
    for n, d in zip(names, series):
        for i, (p, v) in enumerate(d):
            rows.append({"x": v if swap else p, "y": p if swap else v, "s": n, "i": i})
    df = pd.DataFrame(rows)
    L.append(alt.Chart(df).mark_line(strokeWidth=sw, clip=False).encode(
        x=alt.X("x:Q", scale=xs, axis=None),
        y=alt.Y("y:Q", scale=ys, axis=None),
        order=alt.Order("i:Q"),
        color=alt.Color("s:N", scale=alt.Scale(domain=names, range=colors), legend=legend),
        strokeDash=alt.StrokeDash("s:N", scale=alt.Scale(domain=names, range=[list(dash), [1, 0]]), legend=legend)))

def line_legend(sample_x0, text_x, y0, rowpad=1.5):
    return alt.Legend(orient="none", legendX=sample_x0+50-5-O-10, legendY=y0+3-LFS/2-O, title=None, padding=0,
                      symbolType=LINE_SYM, symbolSize=100, symbolStrokeWidth=3, labelFont=F, labelFontSize=LFS,
                      labelColor=INK, labelOffset=text_x-sample_x0-50-5-10, rowPadding=rowpad, labelLimit=400)

def label(txt, x, y):
    L.append(alt.Chart(pd.DataFrame({"t": [txt]})).mark_text(font=SERIF, fontSize=29, align="left", baseline="middle", color="#111111").encode(
        x=alt.value(x-O), y=alt.value(y-O), text="t:N"))

def panel(x0, x1, xdom, y0, y1, ydom, xt, yt, xtitle, ytitle,
          m0, m1, mmax, mticks, by0, by1, bmax, bticks, xpad=18):
    xs = S(xdom, [x0-O, x1-O]); ys = S(ydom, [y1-O, y0-O])
    axes(xs, ys,
         axb(y1, xt, pad=xpad, title=xtitle[0], titleX=xtitle[1]-O, titleY=xtitle[2]-y1, titleBaseline="middle", titleAnchor="start", titleAlign="center"),
         axl(x0, yt, title=ytitle[0], titleX=ytitle[1]-x0, titleY=ytitle[2]-O, titleBaseline="middle", titleAnchor="start", titleAlign="center", titleAngle=270))
    axes(xs, ys, axt(y1, xt), axr(x0, yt))
    # left marginal
    ms = S([mmax, 0], [m0-O, m1-O])
    axes(ms, ys, axb(y1, mticks, pad=xpad), axl(m1, yt, labels=False, tick=5))
    axes(ms, ys, axt(y1, mticks), None)
    # bottom marginal
    bs = S([0, bmax], [by0-O, by1-O])
    axes(xs, bs, axb(by0, xt, labels=False, tick=6), axl(x0, bticks))
    axes(xs, bs, None, axr(x0, bticks))
    return xs, ys, bs

C4_STROKE = [BLUE, PINK, LILAC, RED]
C4_FILL = [BLUE, "transparent", "transparent", RED]
SH4 = [dot(.75), XM, PLUS, SQ]
DE = dot(1.14)

# ===== (a) left
xs, ys, bs = panel(220, 837, [-25, 30], 62, 298, [-25, 15], [-20,-10,0,10,20,30], [-20,-10,0,10],
                   ("PC1", 529, 360), ("PC4", 145, 180),
                   43, 121, .2, [.2, 0], 378, 443, .25, [0, .25])
blob(xs, ys, A1_BLOB_X, A1_BLOB_HI, A1_BLOB_LO, BLUE)
scatter(xs, ys, LABELS4, [A1_INTER, A1_X10, A1_X20, A1_X30], SH4, C4_STROKE, C4_FILL, 247, 22, 320, 4)
ms = S([.2, 0], [43-O, 121-O])
lines(ms, ys, LINE_LABELS, [A1_L_I, A1_L_P], [BLUE, PINK], swap=True)
lines(xs, bs, LINE_LABELS, [A1_B_I, A1_B_P], [BLUE, PINK], legend=line_legend(612, 721, 417))

# ===== (a) right
xs, ys, bs = panel(1088, 1709, [-15, 115], 70, 303, [-17, 15.2], [-15,5,25,45,65,85,105], [-10,0,10],
                   ("PC1", 1397, 364), ("PC2", 1013, 186),
                   910, 988, .2, [.2, 0], 380, 443, .2, [0, .2])
blob(xs, ys, A2_BLOB_X, A2_BLOB_HI, A2_BLOB_LO, BLUE)
scatter(xs, ys, LABELS4, [A2_INTER, A2_X10, A2_X20, A2_X30], SH4, C4_STROKE, C4_FILL, 1474, 21, 1545, 4)
ms = S([.2, 0], [910-O, 988-O])
lines(ms, ys, LINE_LABELS, [A2_L_I, A2_L_P], [BLUE, PINK], swap=True)
lines(xs, bs, LINE_LABELS, [A2_B_I, A2_B_P], [BLUE, PINK], legend=line_legend(1481, 1591, 417))

# ===== (b) left
xs, ys, bs = panel(218, 836, [-4, 16], 524, 762, [-4, 15], [0,5,10,15], [0,5,10,15],
                   ("PC1", 526, 822), ("PC2", 153, 642),
                   39, 116, .5, [.5, 0], 852, 915, .5, [0, .5])
blob(xs, ys, B1_BLOB_X, B1_BLOB_HI, B1_BLOB_LO, BLUE)
scatter(xs, ys, LABELS4, [B1_INTER, B1_X10, B1_X20, B1_X30], SH4, C4_STROKE, C4_FILL, 252, 532, 329, 4)
ms = S([.5, 0], [39-O, 116-O])
lines(ms, ys, LINE_LABELS, [B1_L_I, B1_L_P], [BLUE, PINK], swap=True)
lines(xs, bs, LINE_LABELS, [B1_B_I, B1_B_P], [BLUE, PINK], legend=line_legend(609, 719, 896))

# ===== (b) right
xs, ys, bs = panel(1083, 1703, [-10, 90], 524, 761, [-30, 40], [0,20,40,60,80], [-20,0,20,40],
                   ("PC1", 1392, 820), ("PC2", 1007, 642),
                   905, 981, .4, [.4, 0], 852, 914, .4, [0, .4])
blob(xs, ys, B2_BLOB_X, B2_BLOB_HI, B2_BLOB_LO, BLUE)
blob(xs, ys, B2_ARM_X, B2_ARM_HI, B2_ARM_LO, BLUE)
scatter(xs, ys, LABELS4, [B2_INTER, B2_X10, B2_X20, B2_X30], SH4, C4_STROKE, C4_FILL, 1117, 493, 1195, 4)
ms = S([.4, 0], [905-O, 981-O])
lines(ms, ys, LINE_LABELS, [B2_L_I, B2_L_P], [BLUE, PINK], swap=True)
lines(xs, bs, LINE_LABELS, [B2_B_I, B2_B_P], [BLUE, PINK], legend=line_legend(1476, 1586, 895))

# ===== (c)
cx = S([.245, 7.985], [210-O, 1204-O])
cy = S([0, 1.1], [1175-O, 1004.5-O])
cdf = pd.DataFrame({"x": C_X, "v": C_VAL, "lo": C_LO, "hi": C_HI, "g": [f"{g}{i}" for i, g in enumerate(C_GROUP)], "base": 0})
axes(cx, cy,
     axb(1175, list(C_TICKS), pad=11, expr="'-' + datum.value + ' SD'"),
     axl(210, [0, .5, 1], title=["FLD Separability", "(relative)"], titleX=102-210, titleY=1087-O, titleLineHeight=38, titleFontSize=27,
         titleAnchor="start", titleAlign="center", titleBaseline="middle", titleAngle=270))
axes(cx, cy, axb(1175, [6.4, 7.4], pad=21, domain=False, expr="datum.value < 7 ? 'MUA2' : 'MUA3'"), axr(210, [.5, 1]))
axes(cx, cy, axb(1175, [3], pad=46, domain=False, expr="'MUA1'"), None)
C_COL = ["#1F75BC"]*5 + ["#7BC17E", "#EBB84A"]
L.append(alt.Chart(cdf).mark_bar(size=81).encode(
    x=alt.X("x:Q", scale=cx, axis=None), y=alt.Y("v:Q", scale=cy, axis=None), y2="base:Q",
    color=alt.Color("g:N", scale=alt.Scale(domain=list(cdf.g), range=C_COL), legend=None)))
L.append(alt.Chart(cdf).mark_rule(color="black", strokeWidth=2).encode(
    x=alt.X("x:Q", scale=cx, axis=None), y=alt.Y("lo:Q", scale=cy, axis=None), y2="hi:Q"))
for col in ("lo", "hi"):
    L.append(alt.Chart(cdf).mark_tick(color="black", orient="horizontal", size=15, thickness=3, opacity=1).encode(
        x=alt.X("x:Q", scale=cx, axis=None), y=alt.Y(f"{col}:Q", scale=cy, axis=None)))
L.append(alt.Chart(cdf).mark_point(filled=True, color="black", size=30, opacity=1).encode(
    x=alt.X("x:Q", scale=cx, axis=None), y=alt.Y("v:Q", scale=cy, axis=None)))
L.append(alt.Chart(pd.DataFrame({"x": [5.7], "a": [1.12], "b": [-.43]})).mark_rule(color="#222222", strokeWidth=1.6, strokeDash=[3, 3]).encode(
    x=alt.X("x:Q", scale=cx, axis=None), y=alt.Y("a:Q", scale=cy, axis=None), y2="b:Q"))

# ===== (d)
dx = S([.4976, 5.36], [216-O, 1213-O])
dy = S([.01, 3], [1466-O, 1283-O], type="log")
DEXPR = "datum.value == 1 ? '1' : (datum.value == 0.1 ? '10⁻¹' : '10⁻²')"
axes(dx, dy,
     axb(1466, [1, 2, 3, 4, 5], pad=17, expr="'P' + datum.value"),
     axl(216, [.01, .1, 1], expr=DEXPR, title=["FLD Separability", "(log₁₀ scaled)"], titleX=84-216, titleY=1370-O, titleLineHeight=31, titleFontSize=27,
         titleAnchor="start", titleAlign="center", titleBaseline="middle", titleAngle=270))
axes(dx, dy, axt(1466, [1, 2, 3, 4, 5], tick=10), axr(216, [.01, .1, 1], tick=8))
axes(dx, dy, None, axr(216, D_MINOR, tick=4, tickWidth=1.6))
ddf = pd.DataFrame({"x": D_X_BLUE + D_X_PINK, "v": D_BLUE + D_PINK, "lo": D_BLUE_LO + D_PINK_LO, "hi": D_BLUE_HI + D_PINK_HI,
                    "s": [D_SERIES[0]]*5 + [D_SERIES[1]]*5, "base": .01})
dleg = alt.Legend(orient="none", legendX=1317-5-O, legendY=1359-FS/2-O, title=None, padding=0, symbolType=BAR_SYM, symbolSize=100,
                  labelFont=F, labelFontSize=FS-1, labelColor=INK, labelOffset=31, rowPadding=4, labelLimit=400, symbolStrokeWidth=0)
L.append(alt.Chart(ddf).mark_bar(size=47).encode(
    x=alt.X("x:Q", scale=dx, axis=None), y=alt.Y("v:Q", scale=dy, axis=None), y2="base:Q",
    fill=alt.Fill("s:N", scale=alt.Scale(domain=D_SERIES, range=[BLUE, PINK]), legend=dleg)))
L.append(alt.Chart(ddf).mark_rule(color="black", strokeWidth=2).encode(
    x=alt.X("x:Q", scale=dx, axis=None), y=alt.Y("lo:Q", scale=dy, axis=None), y2="hi:Q"))
for col in ("lo", "hi"):
    L.append(alt.Chart(ddf).mark_tick(color="black", orient="horizontal", size=15, thickness=3, opacity=1).encode(
        x=alt.X("x:Q", scale=dx, axis=None), y=alt.Y(f"{col}:Q", scale=dy, axis=None)))
br = []
for k in range(5):
    for i, (xx, yy) in enumerate([(D_X_BLUE[k], D_BR_L[k]), (D_X_BLUE[k], D_BR_TOP[k]), (D_X_PINK[k], D_BR_TOP[k]), (D_X_PINK[k], D_BR_R[k])]):
        br.append({"x": xx, "y": yy, "k": k, "i": i})
L.append(alt.Chart(pd.DataFrame(br)).mark_line(color="#222222", strokeWidth=1.6).encode(
    x=alt.X("x:Q", scale=dx, axis=None), y=alt.Y("y:Q", scale=dy, axis=None), detail="k:N", order="i:Q"))
L.append(alt.Chart(pd.DataFrame({"x": [1, 2, 3, 4, 5], "y": D_STAR, "t": ["*"]*5})).mark_text(font=F, fontSize=26, color="#111111", baseline="middle").encode(
    x=alt.X("x:Q", scale=dx, axis=None), y=alt.Y("y:Q", scale=dy, axis=None), text="t:N"))

# ===== (e) left
xs, ys, bs = panel(229, 844, [-10, 25], 1558, 1786, [-10, 15], [-10,0,10,20], [-10,0,10],
                   ("PC1", 534, 1847), ("PC2", 153, 1672),
                   43, 118, .306, [.2, 0], 1868, 1927, .2, [0, .1, .2])
blob(xs, ys, E1_BLOB_X, E1_BLOB_HI, E1_BLOB_LO, NAVY, sw=6)
scatter(xs, ys, LABELS2, [E1_INTER, E1_ICTAL], [DE, SQ], [NAVY, BLUE], [NAVY, BLUE], 589.5, 1568, 668, 11)
ms = S([.306, 0], [43-O, 118-O])
lines(ms, ys, LINE_LABELS, [E1_L_I, E1_L_P], [NAVY, BLUE], swap=True)
lines(xs, bs, LINE_LABELS, [E1_B_I, E1_B_P], [NAVY, BLUE])

# ===== (e) right
xs, ys, bs = panel(1105, 1718, [-22.5, 27.35], 1558, 1786, [-25, 28], [-20,-10,0,10,20], [-20,-10,0,10,20],
                   ("PC1", 1414, 1847), ("PC2", 1031, 1672),
                   921, 995, .5, [.5, 0], 1868, 1927, .2, [0, .1, .2])
blob(xs, ys, E2_BLOB_X, E2_BLOB_HI, E2_BLOB_LO, MAUVE, sw=6)
scatter(xs, ys, LABELS2, [E2_INTER, E2_ICTAL], [DE, SQ], [MAUVE, PINK], [MAUVE, PINK], 1136, 1568, 1216, 11)
ms = S([.5, 0], [921-O, 995-O])
lines(ms, ys, LINE_LABELS, [E2_L_I, E2_L_P], [MAUVE, PINK], swap=True)
lines(xs, bs, LINE_LABELS, [E2_B_I, E2_B_P], [MAUVE, PINK])

# ===== panel letters
for t, x, y in [("(a)", 11, 63), ("(b)", 11, 533), ("(c)", 11, 1005), ("(d)", 11, 1285), ("(e)", 11, 1570)]:
    label(t, x, y)

IND = "independent"
chart = alt.layer(*L).resolve_scale(
    x=IND, y=IND, color=IND, fill=IND, stroke=IND, shape=IND, strokeDash=IND
).resolve_axis(x=IND, y=IND).resolve_legend(
    color=IND, fill=IND, stroke=IND, shape=IND, strokeDash=IND
).properties(
    width=W, height=H, padding=0, background="white",
    autosize=alt.AutoSizeParams(type="none", contains="padding")
).configure_view(stroke=None)

chart.save("out.html", embed_options={"renderer": "svg", "actions": False})
